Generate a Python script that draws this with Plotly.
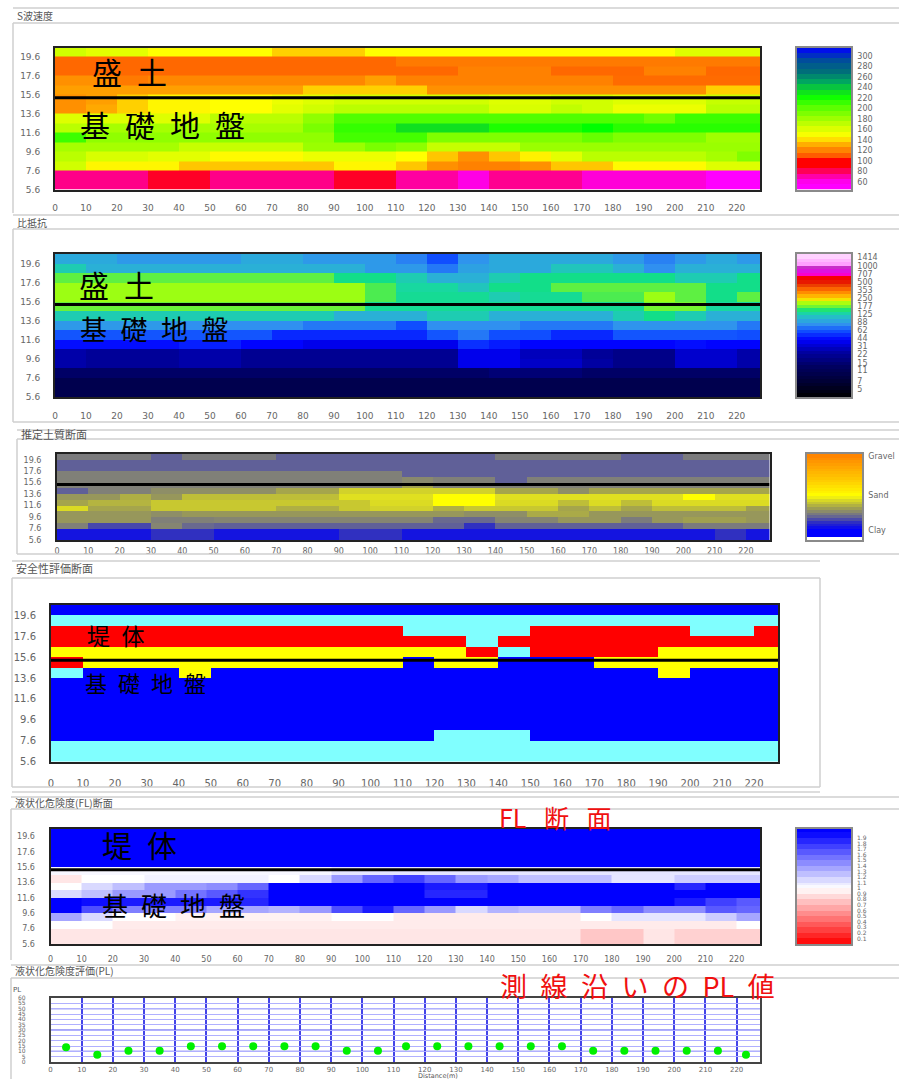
import numpy as np
import plotly.graph_objects as go

W, H = 899, 1079
JP = "Noto Sans CJK JP"
TICK = "DejaVu Sans"

X_EDGES = [0,10,20,30,40,50,60,70,80,90,100,110,120,130,140,150,160,170,180,190,200,210,220,227.5]
Y_EDGES = [20.6,19.6,18.6,17.6,16.6,15.6,14.6,13.6,12.6,11.6,10.6,9.6,8.6,7.6,6.6,5.6]
X_TICKS = [0,10,20,30,40,50,60,70,80,90,100,110,120,130,140,150,160,170,180,190,200,210,220]
Y_TICKS = [19.6,17.6,15.6,13.6,11.6,9.6,7.6,5.6]
INTERFACE_DEPTH = 15.3

VS_ROWS = [
 [165,158,158,148,148,148,148,138,138,138,148,148,148,148,148,148,148,148,148,148,160,160,160],
 [112,112,112,112,112,112,112,112,112,112,112,118,118,118,118,118,118,118,118,118,118,118,118],
 [112,112,112,112,112,112,112,112,112,112,112,112,112,120,120,120,112,112,112,120,120,112,112],
 [125,125,118,122,122,122,122,122,122,122,128,120,120,120,120,120,120,120,113,113,113,113,113],
 [128,128,128,128,128,128,128,128,138,138,138,138,125,125,125,125,125,125,125,125,125,138,138],
 [125,128,138,146,146,148,148,155,160,165,165,165,165,165,160,160,165,165,160,160,160,168,168],
 [125,130,138,146,146,148,148,158,165,172,172,172,172,172,162,162,170,165,155,155,155,172,172],
 [160,160,160,160,160,172,172,172,185,205,205,205,205,205,205,205,205,205,205,195,210,210,210],
 [172,178,178,178,178,178,178,178,192,212,212,232,232,232,218,218,218,225,215,215,215,215,215],
 [210,185,185,185,185,185,185,185,185,208,208,208,190,190,190,190,190,198,190,190,190,180,180],
 [178,178,178,178,168,168,168,168,182,182,192,186,168,168,168,182,182,182,182,182,182,182,182],
 [172,162,162,158,158,147,147,147,155,155,155,148,136,125,136,145,158,172,172,172,172,178,190],
 [165,146,146,146,136,136,136,136,136,146,146,136,125,120,120,125,136,136,147,147,147,160,160],
 [75,75,75,86,86,75,75,75,75,86,86,72,72,62,74,74,74,64,64,64,64,55,55],
 [75,75,75,86,86,75,75,75,75,86,86,72,72,62,74,74,74,64,64,64,64,55,55],
]
VS_STOPS = [(46,"#ff00ff"),(58,"#ff00ff"),(70,"#ff00b0"),(80,"#ff0060"),(90,"#ff0000"),(104,"#ff0000"),(112,"#ff6800"),
            (125,"#ff9000"),(138,"#ffd000"),(148,"#ffff00"),(165,"#d0ff00"),(180,"#a0ff00"),(205,"#50ff00"),(225,"#00ff00"),
            (232,"#10e020"),(250,"#00a860"),(270,"#007078"),(290,"#005098"),(316,"#0000ff")]
VS_LABELS = [300,280,260,240,220,200,180,160,140,120,100,80,60]
VS_BANDS = [46,56,66,76,86,96,106,116,126,136,146,156,166,176,186,196,206,216,226,236,246,256,266,276,286,296,306,316]

RHO_ROWS = [
 [95,95,85,85,85,85,95,95,85,85,85,75,60,82,95,95,95,95,85,75,85,95,85],
 [120,100,100,100,100,100,100,100,100,100,85,85,72,90,95,95,115,115,100,80,100,100,100],
 [165,165,165,165,165,165,165,165,165,140,140,120,100,100,120,140,140,140,140,140,120,120,140],
 [195,195,195,195,195,195,195,195,195,195,160,130,130,115,140,140,165,165,165,165,165,140,140],
 [195,195,195,195,195,195,195,195,195,195,160,135,135,135,120,135,135,160,160,195,165,140,165],
 [170,170,170,170,170,170,170,170,170,170,135,135,135,135,135,135,135,135,135,175,175,130,130],
 [120,120,120,120,120,120,120,120,120,100,100,100,120,120,100,100,100,100,120,140,120,100,100],
 [85,85,85,85,80,80,80,80,72,72,72,60,80,80,80,72,72,72,82,82,82,82,72],
 [62,62,62,62,62,62,62,50,50,50,50,50,62,72,60,60,50,50,62,62,62,62,60],
 [44,44,44,44,48,48,42,42,37,37,37,37,37,52,47,42,42,42,42,42,44,42,42],
 [25,22,22,22,25,25,21,21,21,21,21,21,21,37,37,28,28,22,19,19,31,31,25],
 [25,22,22,22,25,25,21,21,21,21,21,21,21,37,37,30,30,24,19,19,31,31,25],
 [14,14,14,14,14,14,14,14,14,14,14,14,14,14,16,16,16,14,14,14,14,14,14],
 [10,10,10,10,10,10,10,10,10,10,10,10,10,10,10,10,10,10,10,10,10,10,10],
 [10,10,10,10,10,10,10,10,10,10,10,10,10,10,10,10,10,10,10,10,10,10,10],
]
RHO_STOPS = [(-1,"#000000"),(0.7,"#000030"),(2.8,"#000060"),(4.5,"#0000a0"),(6.1,"#0000ff"),(7.2,"#1050ff"),(8.0,"#3090f0"),
             (8.8,"#28b8d0"),(9.4,"#18d8a0"),(9.7,"#10e080"),(10.1,"#60f040"),(10.6,"#a0ff10"),(11,"#f0f000"),(11.4,"#ffc000"),
             (12.3,"#ff7000"),(13.2,"#e02000"),(13.6,"#ff0000"),(14.1,"#e00000"),(14.2,"#ff00ff"),(15,"#c020c0"),
             (15.5,"#ffa0ff"),(16.74,"#ffe0ff")]
RHO_LABELS = [1414,1000,707,500,353,250,177,125,88,62,44,31,22,15,11,7,5]

SOIL_ROWS = [
 [24,24,24,18,24,24,24,18,18,18,18,18,18,18,24,24,24,24,18,18,24,24,24],
 [18,18,18,18,18,18,18,18,18,18,18,18,18,18,18,18,18,18,18,18,18,18,18],
 [18,18,18,18,18,18,18,18,18,18,18,18,18,18,18,18,18,18,18,18,18,18,18],
 [25,25,25,25,25,25,25,25,25,25,25,18,18,18,18,18,18,18,18,18,18,18,18],
 [25,25,25,25,25,25,25,25,25,25,25,27,25,25,18,25,25,25,25,25,25,25,25],
 [25,25,25,25,25,25,25,25,25,25,25,32,25,25,25,25,25,25,25,25,25,25,25],
 [18,25,25,28,28,28,28,33,33,42,42,42,42,42,33,33,28,33,33,33,33,33,33],
 [30,30,35,30,38,38,38,38,38,45,45,45,50,50,45,45,45,45,45,45,50,45,45],
 [33,36,36,40,40,40,40,40,40,40,44,44,50,50,44,44,38,44,38,44,44,44,44],
 [44,33,33,40,40,40,40,35,35,40,42,42,35,40,40,40,33,38,33,38,38,38,32],
 [30,30,30,28,30,30,30,30,30,30,30,30,30,28,28,34,34,30,30,30,30,30,30],
 [30,30,30,25,25,26,26,26,26,26,26,26,20,20,26,26,30,30,24,30,32,32,30],
 [25,15,15,26,20,18,18,18,18,18,18,18,18,12,18,18,18,18,18,18,24,24,24],
 [5,5,5,12,12,5,5,5,5,12,12,5,5,5,5,5,5,5,5,5,5,12,5],
 [5,5,5,12,12,5,5,5,5,12,12,5,5,5,5,5,5,5,5,5,5,12,5],
]
SOIL_STOPS = [(-14.6,"#ffffff"),(-8.8,"#ffffff"),(-8.7,"#0000ff"),(0,"#0000ff"),(5,"#1414e0"),(12,"#3030c0"),(18,"#606098"),
              (25,"#808078"),(32,"#a0a050"),(40,"#c8c830"),(45,"#e0e020"),(50,"#ffff00"),(70,"#ffd000"),(110.5,"#ff8000")]
SOIL_LABELS = ["Gravel","Sand","Clay"]
SOIL_LABEL_VALUES = [108,50,0]

SAFETY_ROWS = [
 [0]*23,
 [1]*23,
 [3,3,3,3,3,3,3,3,3,3,3,1,1,1,1,3,3,3,3,3,1,1,3],
 [3,3,3,3,3,3,3,3,3,3,3,3,3,1,3,3,3,3,3,3,3,3,3],
 [2,2,2,2,2,2,2,2,2,2,2,2,2,3,1,3,3,3,3,2,2,2,2],
 [3,2,2,2,2,2,2,2,2,2,2,0,2,2,0,0,0,2,2,2,2,2,2],
 [1,0,0,0,2,0,0,0,0,0,0,0,0,0,0,0,0,0,0,2,0,0,0],
 [0]*23,
 [0]*23,
 [0]*23,
 [0]*23,
 [0]*23,
 [0,0,0,0,0,0,0,0,0,0,0,0,1,1,1,0,0,0,0,0,0,0,0],
 [1]*23,
 [1]*23,
]
SAFETY_STOPS = [(0,"#0000ff"),(1,"#80ffff"),(2,"#ffff00"),(3,"#ff0000")]

FL_ROWS = [
 [2]*23,
 [2]*23,
 [2]*23,
 [2]*23,
 [2]*23,
 [1.03,1.03,1.03,1.03,1.03,1.03,1.03,1.03,1.03,1.1,1.1,1.1,1.1,1.1,1.1,1.1,1.1,1.1,1.1,1.1,1.1,1.1,1.1],
 [0.9,1,1,1.05,1.05,1.05,1.05,1,1.15,1.4,1.6,1.75,1.6,1.4,1.35,1.25,1.25,1.25,1.1,1.1,1.2,1.2,1.2],
 [1,1.15,1.25,1.4,1.4,1.45,1.6,2,2,2,2,2,1.9,1.9,2,2,2,2,2,2,1.85,2,2],
 [1.15,1.25,1.4,1.4,1.55,1.65,1.8,2,2,2,2,2,1.85,1.85,2,2,2,2,2,2,2,2,2],
 [2,1.95,1.9,1.9,1.9,1.9,1.85,2,2,2,2,2,2,2,2,2,2,2,2,2,1.9,1.75,1.65],
 [2,1.7,1.5,1.5,1.5,1.35,1.35,1.3,1.4,1.7,1.9,1.6,1.4,1.15,1.3,1.25,1.25,1.5,1.6,1.45,1.45,1.65,1.6],
 [1.35,1.15,1,1,.95,.95,.95,.95,.95,1,1,.92,.92,.92,.92,.92,.92,1,1.1,1.1,1.1,1.2,1.35],
 [1,1,.92,.92,.92,.92,.92,.92,.92,.92,.92,.92,.92,.92,.92,.92,.92,.92,.92,.92,.92,.92,1],
 [.9,.9,.9,.9,.9,.9,.9,.9,.9,.9,.9,.9,.9,.9,.9,.9,.9,.78,.78,.9,.82,.82,.82],
 [.9,.9,.9,.9,.9,.9,.9,.9,.9,.9,.9,.9,.9,.9,.9,.9,.9,.78,.78,.9,.82,.82,.82],
]
FL_STOPS = [(0,"#ff0000"),(1,"#ffffff"),(2,"#0000ff")]
FL_LABELS = [1.9,1.8,1.7,1.6,1.5,1.4,1.3,1.2,1.1,1,0.9,0.8,0.7,0.6,0.5,0.4,0.3,0.2,0.1]
FL_BANDS = [0,.1,.2,.3,.4,.5,.6,.7,.8,.9,1,1.05,1.1,1.2,1.3,1.4,1.5,1.6,1.7,1.8,1.9,2,2.06]

PL_X = [5,15,25,35,45,55,65,75,85,95,105,114,124,134,144,154,164,174,184,194,204,214,223]
PL_Y = [13.8,6.9,10.6,10.6,14.7,14.7,14.7,14.7,14.7,10.6,10.6,14.7,14.7,14.7,14.7,14.7,14.7,10.6,10.6,10.6,10.6,10.6,6.9]
PL_TICKS = [0,5,10,15,20,25,30,35,40,45,50,55,60]
PL_STRONG = [10,30,50]


def scale(stops):
    lo, hi = stops[0][0], stops[-1][0]
    return [[(v - lo) / (hi - lo), c] for v, c in stops]


def px(x0, x1, y0, y1):
    return dict(x=[x0 / W, x1 / W], y=[1 - y1 / H, 1 - y0 / H])


def rho_idx(v):
    return 2 * np.log2(np.asarray(v, dtype=float) / 5)


fig = go.Figure()
axis_n = [0]
layout = {}


def new_axes(box, xopts, yopts):
    axis_n[0] += 1
    n = axis_n[0]
    sfx = "" if n == 1 else str(n)
    d = px(*box)
    layout["xaxis" + sfx] = dict(domain=d["x"], anchor="y" + sfx, **xopts)
    layout["yaxis" + sfx] = dict(domain=d["y"], anchor="x" + sfx, **yopts)
    return "x" + sfx, "y" + sfx


def section(rows, stops, box, xlen, ylen, fs, line=True, transform=None):
    xa, ya = new_axes(
        box,
        dict(range=[0, 227.5], tickvals=X_TICKS, ticks="outside", ticklen=xlen, tickcolor="rgba(0,0,0,0)",
             tickfont=dict(family=TICK, size=fs, color="#666"), showgrid=False, zeroline=False,
             showline=True, mirror=True, linecolor="#222", linewidth=2),
        dict(range=[5.6, 20.6], tickvals=Y_TICKS, ticktext=[f"{t:.1f}" for t in Y_TICKS], ticks="outside", ticklen=ylen,
             tickcolor="rgba(0,0,0,0)", tickfont=dict(family=TICK, size=fs, color="#666"), showgrid=False,
             zeroline=False, showline=True, mirror=True, linecolor="#222", linewidth=2),
    )
    assert all(len(r) == 23 for r in rows) and len(rows) == 15
    z = np.array(rows[::-1], dtype=float)
    if transform:
        z = transform(z)
    fig.add_trace(go.Heatmap(x=X_EDGES, y=Y_EDGES[::-1], z=z, colorscale=scale(stops), zmin=stops[0][0],
                             zmax=stops[-1][0], showscale=False, hoverinfo="skip", xaxis=xa, yaxis=ya))
    if line:
        fig.add_shape(type="line", xref=xa, yref=ya, x0=0, x1=227.5, y0=INTERFACE_DEPTH, y1=INTERFACE_DEPTH,
                      line=dict(color="#000", width=3))


def legend_bar(edges, stops, box, tickvals, ticktext, fs, ylen=3):
    xa, ya = new_axes(
        box,
        dict(range=[0, 1], showticklabels=False, ticks="", showgrid=False, zeroline=False, showline=True,
             mirror=True, linecolor="#8a8a8a", linewidth=1.5),
        dict(range=[edges[0], edges[-1]], side="right", tickvals=tickvals, ticktext=ticktext, ticks="outside",
             ticklen=ylen, tickcolor="rgba(0,0,0,0)", tickfont=dict(family=TICK, size=fs, color="#666"),
             showgrid=False, zeroline=False, showline=True, mirror=True, linecolor="#8a8a8a", linewidth=1.5),
    )
    e = np.array(edges, dtype=float)
    mids = (e[:-1] + e[1:]) / 2
    fig.add_trace(go.Heatmap(x=[0, 1], y=e, z=mids.reshape(-1, 1), colorscale=scale(stops), zmin=stops[0][0],
                             zmax=stops[-1][0], showscale=False, hoverinfo="skip", xaxis=xa, yaxis=ya))


# S-wave velocity
section(VS_ROWS, VS_STOPS, (55, 760, 47.5, 189.5), 9, 11, 9)
legend_bar(VS_BANDS, VS_STOPS, (797, 851, 47.5, 189.5), VS_LABELS, [str(v) for v in VS_LABELS], 8)
# resistivity
section(RHO_ROWS, RHO_STOPS, (55, 760, 254, 397), 9, 11, 9, transform=rho_idx)
rho_edges = list(np.arange(-1, 16.8, 0.44))
rho_edges[-1] = 16.74
legend_bar(rho_edges, RHO_STOPS, (797, 851, 254, 397), [float(rho_idx(v)) for v in RHO_LABELS],
           [str(v) for v in RHO_LABELS], 8)
# soil
section(SOIL_ROWS, SOIL_STOPS, (57, 769.5, 454, 540), 2, 12, 8)
soil_edges = list(np.arange(-14.6, 110.6, 4.0))
soil_edges[-1] = 110.5
legend_bar(soil_edges, SOIL_STOPS, (807, 862, 454, 540), SOIL_LABEL_VALUES, SOIL_LABELS, 8)
# safety
section(SAFETY_ROWS, SAFETY_STOPS, (51, 778, 605, 761.5), 11, 11, 10)
# FL
section(FL_ROWS, FL_STOPS, (50.5, 760, 829, 944), 6, 12, 8)
legend_bar(FL_BANDS, FL_STOPS, (797, 851, 829, 944), FL_LABELS, [str(v) for v in FL_LABELS], 6)
# PL
xa, ya = new_axes(
    (50.5, 760, 998, 1062),
    dict(range=[0, 227.5], tickvals=X_TICKS, ticks="",
         tickfont=dict(family=TICK, size=7, color="#666"), showgrid=True, gridcolor="#4444e8", gridwidth=1.6,
         zeroline=False, showline=True, mirror=True, linecolor="#444", linewidth=1.5),
    dict(range=[0, 60], tickvals=PL_TICKS, ticktext=[str(t) for t in PL_TICKS], ticks="outside", ticklen=22,
         tickcolor="rgba(0,0,0,0)", tickfont=dict(family=TICK, size=6, color="#666"), showgrid=True,
         gridcolor="#b0b0ff", gridwidth=1, zeroline=False, showline=True, mirror=True, linecolor="#444", linewidth=1.5),
)
for s in PL_STRONG:
    fig.add_shape(type="line", xref=xa, yref=ya, x0=0, x1=227.5, y0=s, y1=s, layer="below",
                  line=dict(color="#5050ee", width=1.2))
fig.add_trace(go.Scatter(x=PL_X, y=PL_Y, mode="markers", marker=dict(color="#00f000", size=8), hoverinfo="skip",
                         xaxis=xa, yaxis=ya, showlegend=False))


def pline(x0, y0, x1, y1, color="#cfcfcf", width=1.5):
    fig.add_shape(type="line", xref="paper", yref="paper", x0=x0 / W, x1=x1 / W, y0=1 - y0 / H, y1=1 - y1 / H,
                  line=dict(color=color, width=width))


def text(t, x, y, size=11, color="#555", family=JP, anchor="left"):
    fig.add_annotation(text=t, xref="paper", yref="paper", x=x / W, y=1 - y / H, xanchor=anchor, yanchor="middle",
                       showarrow=False, font=dict(family=family, size=size, color=color))


# header bands and frames
for x0, y0, y1, x1, bottom, title, ty, fs in [
    (13, 8, 23, 899, 213, "S波速度", 15, 10),
    (13, 215, 229, 899, 422, "比抵抗", 222, 10),
    (17, 430, 439, 899, 554, "推定土質断面", 434, 11),
    (12, 561, 578, 820, 787, "安全性評価断面", 568, 11),
    (11, 797, 809, 899, 960, "液状化危険度(FL)断面", 802, 10),
    (11, 965, 978, 899, 1079, "液状化危険度評価(PL)", 970, 10),
]:
    pline(x0, y0, x1, y0)
    pline(x0, y1, x1, y1)
    pline(x0, y1, x0, bottom)
    text(title, x0 + 2, ty, fs)
pline(13, 422, 899, 422)
pline(17, 554, 899, 554)
pline(12, 787, 820, 787)
pline(820, 578, 820, 787)
pline(12, 792, 820, 792, "#bbb", 1)

SP = "\u2002"
GAP = "\u2002\u2009"
BLK = "#000"
text(SP.join("盛土"), 90, 71, 30, BLK)
text(SP.join("基礎地盤"), 78, 124, 30, BLK)
text(SP.join("盛土"), 77, 284, 30, BLK)
text(SP.join("基礎地盤"), 78, 328, 27, BLK)
text(SP.join("堤体"), 85, 635, 23, BLK)
text(SP.join("基礎地盤"), 83, 682, 22, BLK)
text(SP.join("堤体"), 100, 844, 30, BLK)
text(SP.join("基礎地盤"), 100, 904, 26, BLK)
text("FL" + GAP + "断" + GAP + "面", 497, 817, 25, "#f01010")
text(SP.join(["測", "線", "沿", "い", "の", "PL", "値"]), 498, 985, 27, "#f01010")
text("PL", 11, 990, 7, "#555", TICK)
text("Distance(m)", 438, 1075.5, 6.5, "#555", TICK, "center")

fig.update_layout(width=W, height=H, autosize=False,
                  margin=dict(l=0, r=0, t=0, b=0, pad=0, autoexpand=False), paper_bgcolor="#fff",
                  plot_bgcolor="#fff", showlegend=False, **layout)
fig.write_html("out.html", config={"displayModeBar": False},
               post_script="document.body.style.margin='0';document.body.style.overflow='hidden';")
